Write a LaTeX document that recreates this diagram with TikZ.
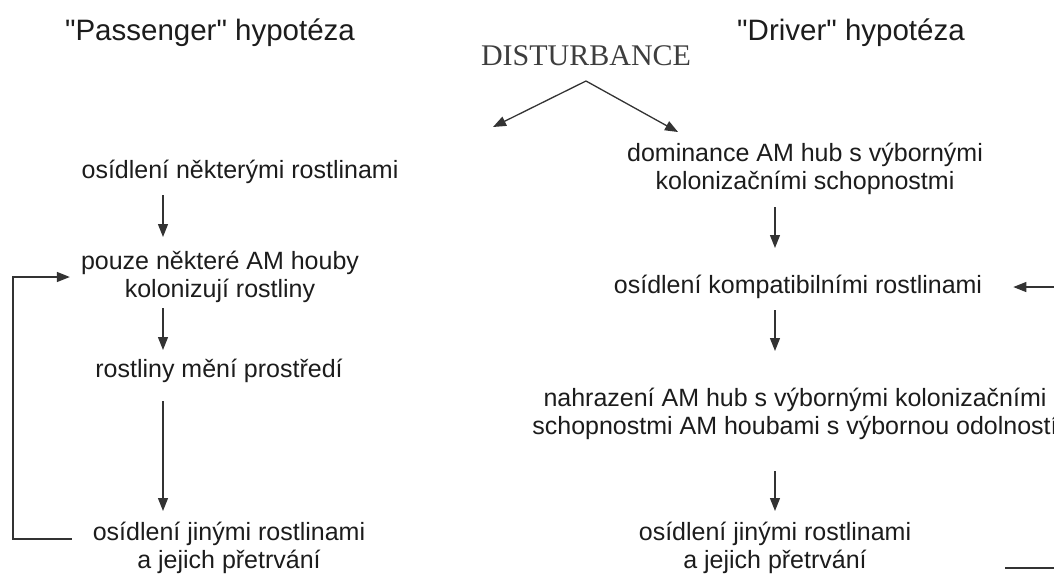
\documentclass[tikz,border=0pt]{standalone}
\usepackage{fontspec}
\setmainfont{Liberation Sans}
\newfontfamily\distfont{Liberation Serif}
\usetikzlibrary{arrows.meta}
\definecolor{txtcol}{HTML}{1C1C1C}
\definecolor{lincol}{HTML}{333333}
\definecolor{distcol}{HTML}{3E3E3E}
\tikzstyle{title}=[inner sep=0pt,text=txtcol,font=\fontsize{29.5}{34}\selectfont]
\tikzstyle{state}=[inner sep=0pt,text=txtcol,align=center,font=\fontsize{25}{28}\selectfont]
\tikzstyle{dist}=[inner sep=0pt,text=distcol,font=\distfont\fontsize{30}{34}\selectfont]
\tikzstyle{arr}=[draw=lincol,line width=1.3pt,-{Triangle[length=13pt,width=10pt]}]
\tikzstyle{fb}=[draw=lincol,line width=1.3pt]

\begin{document}
\begin{tikzpicture}[x=1pt,y=-1pt]
            \useasboundingbox (0,0) rectangle (1054,576);
            \clip (0,0) rectangle (1054,576);

            % TITLES

            \node[title] (tpass) at (210,33) {\textquotedbl Passenger\textquotedbl{} hypotéza};
            \node[title] (tdriv) at (851,33) {\textquotedbl Driver\textquotedbl{} hypotéza};
            \node[dist] (dist) at (586,56) {DISTURBANCE};

            \coordinate (apex) at (586,81);
            \coordinate (lend) at (493,127);
            \coordinate (rend) at (678,132);
            \draw[arr] (apex) -- (lend);
            \draw[arr] (apex) -- (rend);

            % PASSENGER PART

            \coordinate (lc) at (163,0);
            \coordinate (lx) at (13,0);

            \node[state] (p1) at (240,172) {osídlení některými rostlinami};
            \node[state] (p2) at (220,277) {pouze některé AM houby\\kolonizují rostliny};
            \node[state] (p3) at (219,371) {rostliny mění prostředí};
            \node[state] (p4) at (229,548) {osídlení jinými rostlinami\\a jejich přetrvání};

            \draw[arr,shorten <=11pt,shorten >=14pt] (p1.south -| lc) -- (p2.north -| lc);
            \draw[arr,shorten <=5pt,shorten >=9pt] (p2.south -| lc) -- (p3.north -| lc);
            \draw[arr,shorten <=18pt,shorten >=11pt] (p3.south -| lc) -- (p4.north -| lc);

            \coordinate (lstart) at ([xshift=-21pt,yshift=9pt]p4.west);
            \draw[arr] (lstart) -- (lstart -| lx) |- ([xshift=-11pt]p2.west);

            % DRIVER PART

            \coordinate (rc) at (775,0);
            \coordinate (rx) at (1060,0);

            \node[state] (d1) at (805,169) {dominance AM hub s výbornými\\kolonizačními schopnostmi};
            \node[state] (d2) at (798,287) {osídlení kompatibilními rostlinami};
            \node[state] (d3) at (795,414) {nahrazení AM hub s výbornými kolonizačními\\schopnostmi AM houbami s výbornou odolností};
            \node[state] (d4) at (775,548) {osídlení jinými rostlinami\\a jejich přetrvání};

            \draw[arr,shorten <=12pt,shorten >=27pt] (d1.south -| rc) -- (d2.north -| rc);
            \draw[arr,shorten <=11pt,shorten >=37pt] (d2.south -| rc) -- (d3.north -| rc);
            \draw[arr,shorten <=31pt,shorten >=11pt] (d3.south -| rc) -- (d4.north -| rc);

            \draw[arr,shorten >=31pt] (d2.east -| rx) -- (d2.east);
            \coordinate (rb) at (1005,568);
            \draw[fb] (rb) -- (rb -| rx);

\end{tikzpicture}
\end{document}
